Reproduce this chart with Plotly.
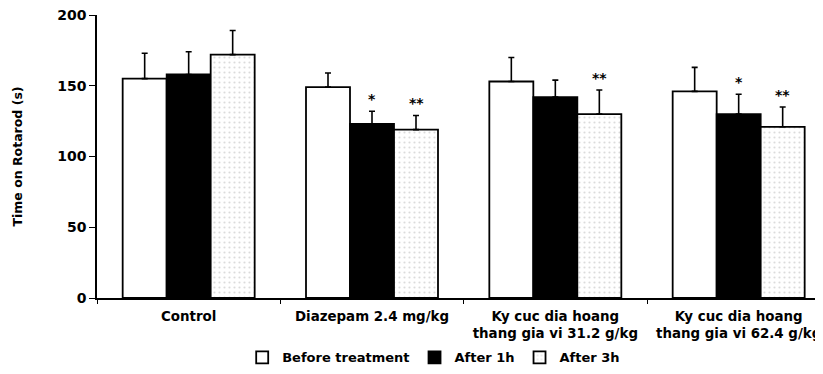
import plotly.graph_objects as go

categories = ["Control", "Diazepam 2.4 mg/kg",
              "Ky cuc dia hoang<br>thang gia vi 31.2 g/kg",
              "Ky cuc dia hoang<br>thang gia vi 62.4 g/kg"]
series_names = ["Before treatment", "After 1h", "After 3h"]
before_vals = [155, 149, 153, 146]
before_err = [18, 10, 17, 17]
after1_vals = [158, 123, 142, 130]
after1_err = [16, 9, 12, 14]
after3_vals = [172, 119, 130, 121]
after3_err = [17, 10, 17, 14]
after1_sig = ["", "*", "", "*"]
after3_sig = ["", "**", "**", "**"]
y_ticks = [0, 50, 100, 150, 200]

FONT = "DejaVu Sans"
# the page body has an 8px default margin, so the figure is 8px smaller
W, H = 815, 366
ML, MR, MT, MB = 89, 0, 7, 76
BARGAP = 0.28
XMIN, XMAX = -0.5, 3.46

fig = go.Figure()
styles = [
    dict(color="white", line=dict(color="black", width=1.8)),
    dict(color="black", line=dict(color="black", width=1.8)),
    dict(color="white", line=dict(color="black", width=1.8),
         pattern=dict(shape=".", fgcolor="#b8b8b8", bgcolor="white", size=5, solidity=0.15)),
]
vals = [before_vals, after1_vals, after3_vals]
errs = [before_err, after1_err, after3_err]
for name, v, e, st in zip(series_names, vals, errs, styles):
    fig.add_trace(go.Bar(
        x=categories, y=v, name=name, marker=st,
        error_y=dict(type="data", symmetric=False, array=e, arrayminus=[0] * len(e),
                     color="black", thickness=1.6, width=3),
    ))

# significance marks
plot_w = W - ML - MR
cat_px = plot_w / (XMAX - XMIN)
bar_px = cat_px * (1 - BARGAP) / 3
for idx, (sig, v, e) in enumerate([(after1_sig, after1_vals, after1_err),
                                    (after3_sig, after3_vals, after3_err)]):
    shift = idx * bar_px
    for c, s, val, er in zip(categories, sig, v, e):
        if s:
            fig.add_annotation(x=c, y=val + er, text=s, showarrow=False,
                               xshift=shift, yanchor="bottom", yshift=2,
                               font=dict(family=FONT, size=14, color="black", weight="bold"))

fig.update_layout(
    width=W, height=H,
    margin=dict(l=ML, r=MR, t=MT, b=MB, autoexpand=False),
    paper_bgcolor="white", plot_bgcolor="white",
    barmode="group", bargap=BARGAP, bargroupgap=0,
    font=dict(family=FONT, color="black", size=13, weight="bold"),
    showlegend=True,
    legend=dict(orientation="h", x=0.2, xanchor="left", y=-0.21, yanchor="middle",
                font=dict(family=FONT, size=13, color="black", weight="bold"),
                itemwidth=30, traceorder="normal", bgcolor="rgba(0,0,0,0)"),
)
fig.update_xaxes(
    range=[XMIN, XMAX], showline=True, linecolor="black", linewidth=1.6,
    ticks="outside", tickson="boundaries", ticklen=4, tickcolor="black", tickwidth=1.2,
    tickfont=dict(family=FONT, size=13.4, color="black", weight="bold"),
    ticklabelstandoff=5,
    showgrid=False, zeroline=False, automargin=False,
)
fig.update_yaxes(
    range=[0, 200], tickvals=y_ticks, showline=True, linecolor="black", linewidth=1.6,
    ticks="outside", ticklen=6, tickcolor="black", tickwidth=1.2,
    tickfont=dict(family=FONT, size=14, color="black", weight="bold"),
    ticklabeloverflow="allow",
    showgrid=False, zeroline=False, automargin=False,
    title=dict(text="Time on Rotarod (s)", standoff=32,
               font=dict(family=FONT, size=12.5, color="black", weight="bold")),
)

fig.write_html("out.html")
